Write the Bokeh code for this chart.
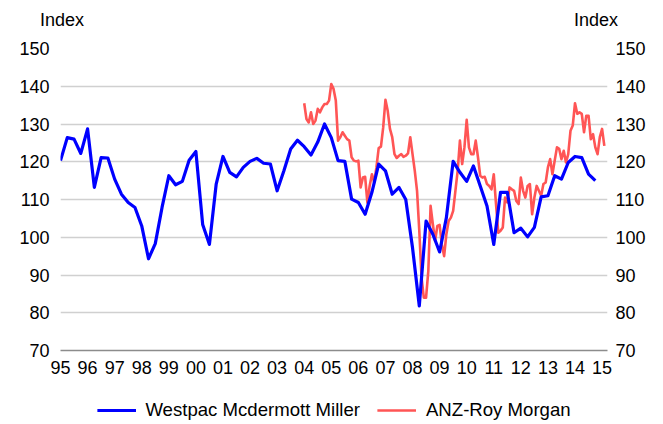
from bokeh.plotting import figure
from bokeh.layouts import column
from bokeh.models import (Range1d, LinearAxis, FixedTicker, Legend, LegendItem)
from bokeh.embed import file_html
from bokeh.resources import INLINE

# ---------------- data ----------------
year_ticks = list(range(1995, 2016))
year_labels = ["95", "96", "97", "98", "99", "00", "01", "02", "03", "04",
               "05", "06", "07", "08", "09", "10", "11", "12", "13", "14", "15"]
y_ticks = [70, 80, 90, 100, 110, 120, 130, 140, 150]

# Westpac McDermott Miller consumer confidence, quarterly from 1995 Q1
westpac_start = 1995
westpac = [120.3, 126.4, 126.0, 122.2,
           128.7, 113.2, 121.1, 121.0,
           115.4, 111.4, 109.2, 107.9,
           103.0, 94.3, 98.3, 107.9,
           116.3, 113.9, 114.8, 120.4,
           122.7, 103.4, 98.1, 114.1,
           121.4, 117.2, 116.0, 118.5,
           120.1, 120.9, 119.6, 119.4,
           112.3, 117.6, 123.4, 125.7,
           124.0, 121.8, 125.2, 130.0,
           126.4, 120.3, 120.1, 110.1,
           109.2, 106.1, 111.9, 119.4,
           117.6, 111.4, 113.2, 110.0,
           97.2, 81.8, 104.3, 100.8,
           96.1, 105.2, 120.1, 117.2,
           114.8, 118.9, 113.6, 108.3,
           98.1, 111.9, 111.9, 101.2,
           102.4, 100.1, 102.6, 110.7,
           111.0, 116.3, 115.4, 119.8,
           121.4, 121.1, 116.7, 115.0]

# ANZ-Roy Morgan consumer confidence, monthly from Jan 2004
anz_start = 2004
anz = [135.5, 131.3, 130.4, 133.1, 130.0, 130.9, 134.0, 133.1, 134.4, 135.3, 135.3, 136.2,
       140.6, 139.3, 136.2, 125.6, 126.5, 127.8, 126.9, 126.0, 125.6, 121.2, 120.3, 120.1,
       120.3, 113.2, 115.8, 116.0, 109.2, 113.6, 116.7, 114.5, 118.5, 123.6, 124.0, 129.1,
       136.4, 133.5, 128.7, 126.5, 122.0, 121.0, 121.6, 122.0, 121.3, 121.6, 122.2, 126.5,
       122.0, 117.6, 112.3, 101.7, 89.3, 84.0, 84.0, 91.1, 108.3, 103.5, 99.0, 103.0,
       103.3, 98.1, 95.0, 100.8, 104.3, 105.2, 107.0, 112.3, 117.6, 125.6, 119.4, 123.8,
       131.1, 123.8, 122.0, 122.0, 125.6, 121.2, 116.3, 115.8, 116.0, 114.1, 113.6, 112.7,
       116.7, 108.8, 101.2, 101.7, 102.6, 110.5, 109.2, 113.2, 112.7, 112.3, 109.6, 108.8,
       115.8, 112.3, 110.5, 113.6, 114.1, 106.1, 110.5, 113.6, 112.3, 111.0, 114.1, 114.5,
       118.5, 120.7, 116.7, 120.3, 123.8, 123.4, 120.7, 122.9, 119.8, 122.0, 128.2, 129.6,
       135.5, 132.7, 133.1, 132.7, 127.8, 132.2, 132.2, 126.0, 127.3, 123.8, 122.0, 126.5,
       128.7, 124.2]

series_names = ["Westpac Mcdermott Miller", "ANZ-Roy Morgan"]
series_colors = ["#0000FF", "#FF5555"]
series_widths = [3.2, 2.6]
axis_title = "Index"

westpac_x = [westpac_start + i / 4 for i in range(len(westpac))]
anz_x = [anz_start + i / 12 for i in range(len(anz))]
series_xy = [(westpac_x, westpac), (anz_x, anz)]

# ---------------- main figure ----------------
FONT = "Liberation Sans"
FS = "18px"
W = 663
FRAME_W = 547

p = figure(width=W, height=376,
           x_range=Range1d(1995, 2015.2), y_range=Range1d(70, 150),
           extra_x_ranges={"px": Range1d(0, FRAME_W)},
           output_backend="svg", toolbar_location=None,
           min_border_left=60, min_border_right=56, min_border_top=48,
           min_border_bottom=26, y_axis_location=None, x_axis_location="below")
p.outline_line_color = None
p.background_fill_color = "white"
p.border_fill_color = "white"

# grid
p.xgrid.grid_line_color = None
p.ygrid.grid_line_color = "#D0D0D0"
p.ygrid.grid_line_width = 1.3
p.ygrid.ticker = FixedTicker(ticks=y_ticks)

# x axis
xa = p.xaxis[0]
xa.ticker = FixedTicker(ticks=year_ticks)
xa.major_label_overrides = {t: l for t, l in zip(year_ticks, year_labels)}
xa.axis_line_color = "#8C8C8C"
xa.axis_line_width = 1.5
xa.major_tick_line_color = None
xa.minor_tick_line_color = None
xa.major_label_standoff = 4
xa.major_label_text_font = FONT
xa.major_label_text_font_size = FS
xa.major_label_text_color = "black"

# y axes left and right
for side, standoff in (("left", 5), ("right", 2)):
    ya = LinearAxis(ticker=FixedTicker(ticks=y_ticks))
    ya.axis_line_color = None
    ya.major_tick_line_color = None
    ya.minor_tick_line_color = None
    ya.major_label_standoff = standoff
    ya.major_label_text_font = FONT
    ya.major_label_text_font_size = FS
    ya.major_label_text_color = "black"
    p.add_layout(ya, side)

# "Index" titles above both value axes (an axis on a pixel range)
title_pos = [1.5, FRAME_W - 11.5]
ta = LinearAxis(x_range_name="px", ticker=FixedTicker(ticks=title_pos))
ta.major_label_overrides = {t: axis_title for t in title_pos}
ta.axis_line_color = None
ta.major_tick_line_color = None
ta.minor_tick_line_color = None
ta.major_label_standoff = 13
ta.major_label_text_font = FONT
ta.major_label_text_font_size = FS
ta.major_label_text_color = "black"
p.add_layout(ta, "above")

# lines (ANZ below Westpac)
for (sx, sy), col, lw in list(zip(series_xy, series_colors, series_widths))[::-1]:
    p.line(sx, sy, line_color=col, line_width=lw, line_join="round")

# ---------------- legend strip ----------------
# same series drawn on a range where they fall outside the frame,
# only so that the legend has renderers to take its line styles from
lg = figure(width=W, height=48, x_range=Range1d(0, 1), y_range=Range1d(0, 1),
            output_backend="svg", toolbar_location=None,
            min_border_left=0, min_border_right=0, min_border_top=20, min_border_bottom=0,
            x_axis_location=None, y_axis_location=None)
lg.outline_line_color = None
lg.xgrid.grid_line_color = None
lg.ygrid.grid_line_color = None
items = []
for name, (sx, sy), col, lw in zip(series_names, series_xy, series_colors, series_widths):
    r = lg.line(sx, sy, line_color=col, line_width=lw)
    items.append(LegendItem(label=name, renderers=[r]))
legend = Legend(items=items, orientation="horizontal", location="center",
                label_text_font=FONT, label_text_font_size="18.6px", label_text_color="black",
                glyph_width=39, label_standoff=10, spacing=17,
                padding=0, margin=0, border_line_color=None,
                background_fill_alpha=0)
lg.add_layout(legend, "center")

open("out.html", "w").write(file_html(column(p, lg, spacing=0), INLINE))
